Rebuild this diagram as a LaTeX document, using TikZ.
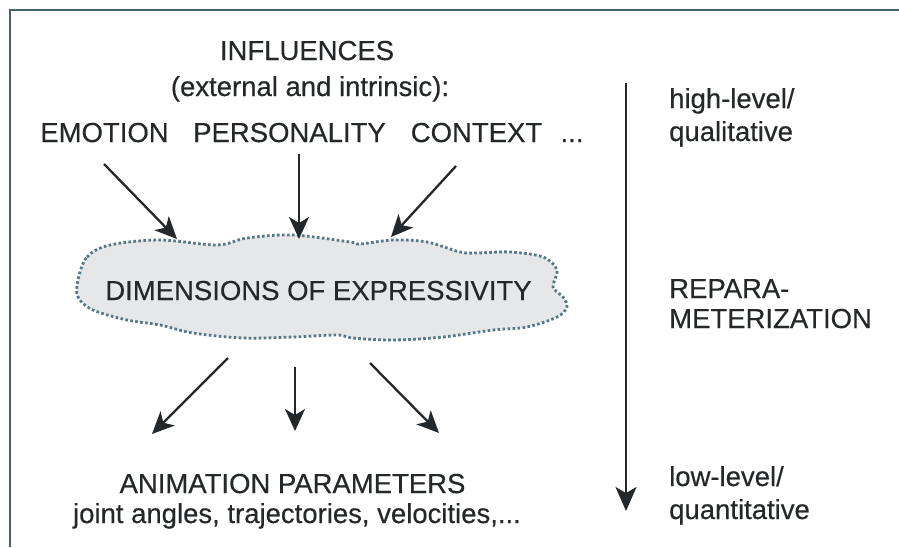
\documentclass[tikz,border=0pt]{standalone}
\usepackage{fontspec}
\setmainfont{Liberation Sans}[FakeBold=0.35]
\usetikzlibrary{arrows.meta}
\definecolor{ink}{HTML}{25282B}
\definecolor{frame}{HTML}{45636F}
\definecolor{cloudfill}{HTML}{E6E7E9}
\definecolor{clouddot}{HTML}{557888}
\tikzset{
  txt/.style={inner sep=0pt, anchor=base, text=ink, font=\fontsize{27.5}{31}\selectfont},
  rtxt/.style={txt, anchor=base west},
  arr/.style={draw=ink, line width=2.3pt, -{Stealth[length=22pt,width=20pt,inset=6pt]}},
  bigarr/.style={draw=ink, line width=2.3pt, -{Stealth[length=24pt,width=21pt,inset=6pt]}},
  cloudline/.style={draw=clouddot, fill=cloudfill, line width=2.8pt, dash pattern=on 2.6pt off 2.4pt},
  framestyle/.style={draw=frame, line width=2pt}
}
\begin{document}
\begin{tikzpicture}[x=1pt,y=-1pt]
\useasboundingbox (0,0) rectangle (899,547);
\fill[white] (0,0) rectangle (899,547);
% frame
\coordinate (fr1) at (899,10);
\coordinate (fr2) at (10,10);
\coordinate (fr3) at (10,547);
\draw[framestyle] (fr1) -- (fr2) -- (fr3);

% top texts
\node[txt] (infl) at (307,60) {INFLUENCES};
\node[txt] (ext) at (310,96) {(external and intrinsic):};
\node[txt] (emo) at (104.5,142) {EMOTION};
\node[txt] (pers) at (289.5,142) {PERSONALITY};
\node[txt] (ctx) at (476.5,142) {CONTEXT};
\node[txt] (more) at (572,142) {...};

% cloud
\path[cloudline] plot[smooth cycle, tension=0.55] coordinates {
 (78,280) (87,257) (110,245) (160,240) (217,245) (247,238) (293,235)
 (350,242) (360,244) (393,240) (427,242) (460,252) (477,253) (510,252)
 (543,257) (557,270) (553,287) (563,297) (567,307) (557,317) (527,327)
 (493,330) (443,337) (393,340) (353,338) (337,335) (293,337) (243,338)
 (193,333) (160,325) (127,320) (93,310) (78,297)};
\node[txt] (dim) at (318.5,300) {DIMENSIONS OF EXPRESSIVITY};

% arrow end points
\coordinate (a1s) at (104,164);  \coordinate (a1e) at (177,239);
\coordinate (a2s) at (299,154);  \coordinate (a2e) at (299,239);
\coordinate (a3s) at (456,166);  \coordinate (a3e) at (391,237);
\coordinate (b1s) at (228,358);  \coordinate (b1e) at (152,434);
\coordinate (b2s) at (295,367);  \coordinate (b2e) at (295,431);
\coordinate (b3s) at (370,363);  \coordinate (b3e) at (439,433);
\draw[arr] (a1s) -- (a1e);
\draw[arr] (a2s) -- (a2e);
\draw[arr] (a3s) -- (a3e);
\draw[arr] (b1s) -- (b1e);
\draw[arr] (b2s) -- (b2e);
\draw[arr] (b3s) -- (b3e);

% bottom texts
\node[txt] (anim) at (292.5,493) {ANIMATION PARAMETERS};
\node[txt] (joint) at (297,523) {joint angles, trajectories, velocities,...};

% right column
\coordinate (rs) at (626,83);
\coordinate (re) at (626,511);
\draw[bigarr] (rs) -- (re);
\node[rtxt] (hl1) at (669,108) {high-level/};
\node[rtxt] (hl2) at (669,141) {qualitative};
\node[rtxt] (rp1) at (669,298) {REPARA-};
\node[rtxt] (rp2) at (669,328) {METERIZATION};
\node[rtxt] (ll1) at (669,486) {low-level/};
\node[rtxt] (ll2) at (669,519) {quantitative};
\end{tikzpicture}
\end{document}
